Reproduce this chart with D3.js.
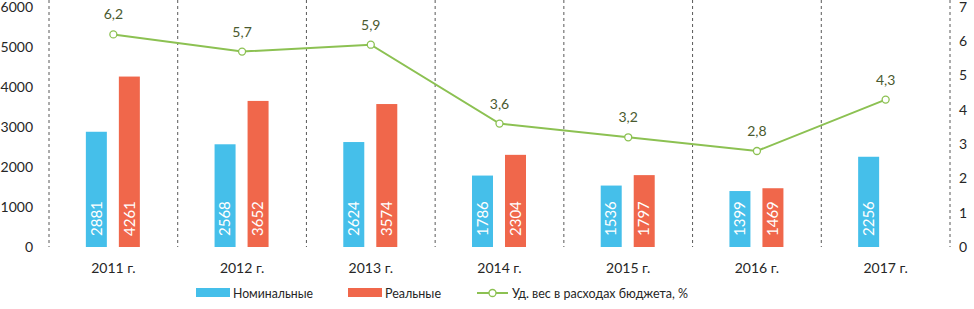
<!DOCTYPE html>
<html>
<head>
<meta charset="utf-8">
<script src="https://cdn.jsdelivr.net/npm/d3@7"></script>
<style>
  body { margin: 0; background: #fff; }
  svg text { font-family: Lato, "Open Sans", sans-serif; }
</style>
</head>
<body>
<div id="chart"></div>
<script>
const years = ["2011 г.","2012 г.","2013 г.","2014 г.","2015 г.","2016 г.","2017 г."];
const nominal = [2881, 2568, 2624, 1786, 1536, 1399, 2256];
const real    = [4261, 3652, 3574, 2304, 1797, 1469, null];
const share   = [6.2, 5.7, 5.9, 3.6, 3.2, 2.8, 4.3];
const leftTicks  = [0, 1000, 2000, 3000, 4000, 5000, 6000];
const rightTicks = [0, 1, 2, 3, 4, 5, 6, 7];

const seriesNames = ["Номинальные", "Реальные", "Уд. вес в расходах бюджета, %"];
const blue = "#45bfea", red = "#f0674b", green = "#8cc152";

const width = 974, height = 309;
const m = {left: 49, right: 24, top: 7, bottom: 62};

const svg = d3.select("#chart").append("svg")
  .attr("width", width).attr("height", height);

const x = d3.scaleBand().domain(years)
  .range([m.left, width - m.right]).padding(0);
const yL = d3.scaleLinear().domain([0, 6000]).range([height - m.bottom, m.top]);
const yR = d3.scaleLinear().domain([0, 7]).range([height - m.bottom, m.top]);
const cx = d => x(d) + x.bandwidth() / 2;
const barW = 21, offB = -27.5, offR = 5.5;

// dashed separators
const seps = years.map(d => x(d)).concat([x.range()[1]]);
svg.append("g").selectAll("line").data(seps).join("line")
  .attr("x1", d => d).attr("x2", d => d)
  .attr("y1", 0).attr("y2", yL(0))
  .attr("stroke", "#595959").attr("stroke-width", 1)
  .attr("stroke-dasharray", "3,3");

// left axis
svg.append("g").selectAll("text").data(leftTicks).join("text")
  .attr("x", 33).attr("y", d => yL(d)).attr("dy", "0.35em")
  .attr("text-anchor", "end").attr("font-size", 14).attr("fill", "#262626")
  .text(d => d);

// right axis
svg.append("g").selectAll("text").data(rightTicks).join("text")
  .attr("x", 963).attr("y", d => yR(d)).attr("dy", "0.35em")
  .attr("text-anchor", "middle").attr("font-size", 14).attr("fill", "#262626")
  .text(d => d);

// x labels
svg.append("g").selectAll("text").data(years).join("text")
  .attr("x", d => cx(d)).attr("y", 273)
  .attr("text-anchor", "middle").attr("font-size", 14).attr("fill", "#262626")
  .text(d => d);

// bars
function drawBars(vals, off, color) {
  const data = years.map((y, i) => ({y, v: vals[i]})).filter(d => d.v != null);
  const g = svg.append("g");
  g.selectAll("rect").data(data).join("rect")
    .attr("x", d => cx(d.y) + off).attr("width", barW)
    .attr("y", d => yL(d.v)).attr("height", d => yL(0) - yL(d.v))
    .attr("fill", color);
  g.selectAll("text").data(data).join("text")
    .attr("transform", d => `translate(${cx(d.y) + off + barW / 2},${yL(0) - 11}) rotate(-90)`)
    .attr("dy", "0.35em").attr("font-size", 15).attr("fill", "#fff")
    .text(d => d.v);
}
drawBars(nominal, offB, blue);
drawBars(real, offR, red);

// line
const pts = years.map((y, i) => ({y, v: share[i]}));
svg.append("path").datum(pts)
  .attr("d", d3.line().x(d => cx(d.y)).y(d => yR(d.v)))
  .attr("fill", "none").attr("stroke", green).attr("stroke-width", 2);
svg.append("g").selectAll("circle").data(pts).join("circle")
  .attr("cx", d => cx(d.y)).attr("cy", d => yR(d.v)).attr("r", 3.5)
  .attr("fill", "#fff").attr("stroke", green).attr("stroke-width", 1.3);
svg.append("g").selectAll("text").data(pts).join("text")
  .attr("x", d => cx(d.y)).attr("y", d => yR(d.v) - 15)
  .attr("text-anchor", "middle").attr("font-size", 14).attr("fill", "#4a5a2f")
  .text(d => String(d.v).replace(".", ","));

// legend
const lg = svg.append("g").attr("transform", "translate(0,293)");
lg.append("rect").attr("x", 196).attr("y", -5).attr("width", 34).attr("height", 9).attr("fill", blue);
lg.append("text").attr("x", 233).attr("dy", "0.35em").attr("font-size", 14).attr("fill", "#262626")
  .attr("textLength", 80).attr("lengthAdjust", "spacingAndGlyphs").text(seriesNames[0]);
lg.append("rect").attr("x", 348).attr("y", -5).attr("width", 34).attr("height", 9).attr("fill", red);
lg.append("text").attr("x", 385).attr("dy", "0.35em").attr("font-size", 14).attr("fill", "#262626")
  .attr("textLength", 56).attr("lengthAdjust", "spacingAndGlyphs").text(seriesNames[1]);
lg.append("line").attr("x1", 477).attr("x2", 508).attr("stroke", green).attr("stroke-width", 2);
lg.append("circle").attr("cx", 492.5).attr("r", 3.5).attr("fill", "#fff").attr("stroke", green).attr("stroke-width", 1.3);
lg.append("text").attr("x", 512).attr("dy", "0.35em").attr("font-size", 14).attr("fill", "#262626")
  .attr("textLength", 176).attr("lengthAdjust", "spacingAndGlyphs").text(seriesNames[2]);
</script>
</body>
</html>
